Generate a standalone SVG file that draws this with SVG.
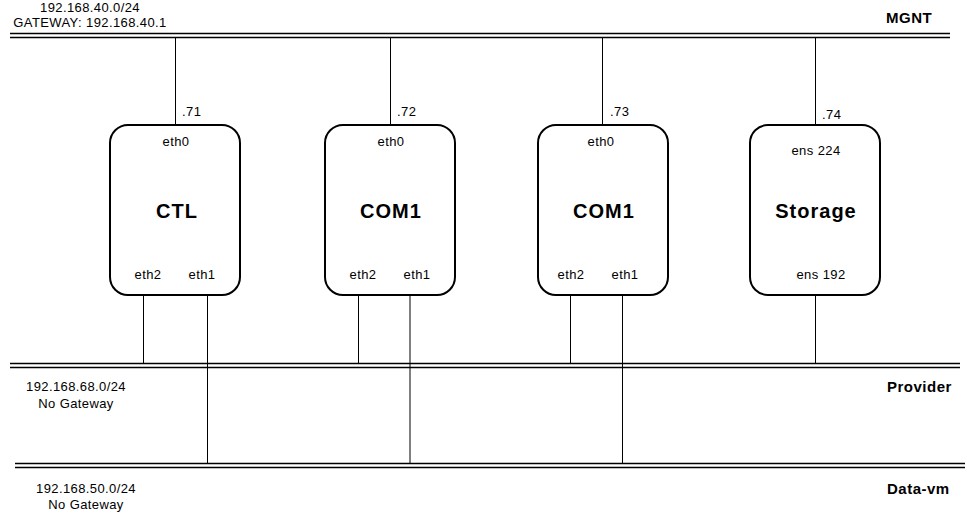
<svg xmlns="http://www.w3.org/2000/svg" width="967" height="516" viewBox="0 0 967 516">
<style>
text{font-family:"Liberation Sans",Arial,sans-serif;fill:#000}
.s{font-size:13px;letter-spacing:0.4px}
.c{text-anchor:middle}
.t{font-size:20px;font-weight:bold;text-anchor:middle;letter-spacing:1px}
.b{font-size:15px;font-weight:bold;letter-spacing:0.5px}
.box{fill:#fff;stroke:#000;stroke-width:2}
.bus{stroke:#000;stroke-width:1.5;fill:none}
.ln{stroke:#000;stroke-width:1;fill:none}
</style>
<rect width="967" height="516" fill="#fff"/>
<g id="buses">
<path class="bus" d="M10 33.5H950M10 37.5H950"/>
<path class="bus" d="M10 363.5H960M10 367.5H960"/>
<path class="bus" d="M15 463.5H965M15 467.5H965"/>
</g>
<g id="connectors">
<path class="ln" d="M175.5 37.5V125M390.5 37.5V125M602.5 37.5V125M815.5 37.5V125"/>
<path class="ln" d="M143.5 295V364M207.5 295V464M358.5 295V364M410 295V464M570.5 295V364M622.5 295V464M815.5 295V364"/>
</g>
<g id="bus-labels">
<text class="s c" x="90" y="12">192.168.40.0/24</text>
<text class="s c" x="90" y="27">GATEWAY: 192.168.40.1</text>
<text class="b" x="886" y="23">MGNT</text>
<text class="s c" x="76" y="391">192.168.68.0/24</text>
<text class="s c" x="76" y="408">No Gateway</text>
<text class="b" x="887" y="392">Provider</text>
<text class="s c" x="86" y="493">192.168.50.0/24</text>
<text class="s c" x="86" y="509">No Gateway</text>
<text class="b" x="887" y="494">Data-vm</text>
</g>
<g id="ctl">
<rect class="box" x="110" y="125" width="130" height="170" rx="18"/>
<text class="s" x="182" y="116">.71</text>
<text class="s c" x="176" y="146">eth0</text>
<text class="t" x="177" y="218">CTL</text>
<text class="s c" x="148" y="279">eth2</text>
<text class="s c" x="202" y="279">eth1</text>
</g>
<g id="com1a">
<rect class="box" x="325" y="125" width="130" height="170" rx="18"/>
<text class="s" x="397" y="116">.72</text>
<text class="s c" x="391" y="146">eth0</text>
<text class="t" x="391" y="218">COM1</text>
<text class="s c" x="363" y="279">eth2</text>
<text class="s c" x="417" y="279">eth1</text>
</g>
<g id="com1b">
<rect class="box" x="538" y="125" width="130" height="170" rx="18"/>
<text class="s" x="610" y="116">.73</text>
<text class="s c" x="601" y="146">eth0</text>
<text class="t" x="604" y="218">COM1</text>
<text class="s c" x="571" y="279">eth2</text>
<text class="s c" x="625" y="279">eth1</text>
</g>
<g id="storage">
<rect class="box" x="750" y="125" width="130" height="170" rx="18"/>
<text class="s" x="822" y="119">.74</text>
<text class="s c" x="816" y="155">ens 224</text>
<text class="t" x="816" y="218">Storage</text>
<text class="s c" x="821" y="279">ens 192</text>
</g>
</svg>
